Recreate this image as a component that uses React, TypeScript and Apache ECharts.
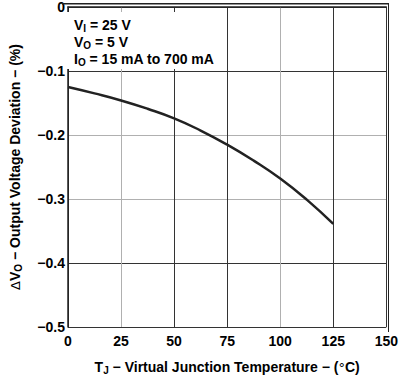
import React, { useEffect, useRef } from "react";
import * as echarts from "echarts";

const temps = [0, 12.5, 25, 37.5, 50, 62.5, 75, 87.5, 100, 112.5, 125];
const deviation = [-0.125, -0.135, -0.146, -0.159, -0.174, -0.193, -0.215, -0.24, -0.268, -0.301, -0.339];
const xTicks = [0, 25, 50, 75, 100, 125, 150];
const yTicks = [-0.5, -0.4, -0.3, -0.2, -0.1, 0];
const noteLines = [
  ["V", "I", " = 25 V"],
  ["V", "O", " = 5 V"],
  ["I", "O", " = 15 mA to 700 mA"],
];

const DARK = "#333333";
const GRAY = "#b0b0b0";
const FONT = "Liberation Sans, Arial, sans-serif";

function fmtY(v: number) {
  if (v === 0) return "0";
  return "\u2212" + Math.abs(v).toFixed(1);
}

export default function App() {
  const ref = useRef<HTMLDivElement>(null);
  useEffect(() => {
    if (!ref.current) return;
    const chart = echarts.init(ref.current, null, { renderer: "svg" });
    const rich = {
      b: { fontFamily: FONT, fontWeight: "bold", fontSize: 14, color: "#000" },
      s: { fontFamily: FONT, fontWeight: "bold", fontSize: 10, color: "#000", verticalAlign: "bottom", padding: [6, 0, 0, 0] },
      d: { fontFamily: "DejaVu Sans, sans-serif", fontWeight: "normal", fontSize: 13, color: "#000" },
    } as any;
    const noteRich = {
      b: { fontFamily: FONT, fontWeight: "bold", fontSize: 14, color: "#000" },
      s: { fontFamily: FONT, fontWeight: "bold", fontSize: 10, color: "#000", verticalAlign: "bottom", padding: [7, 0, 0, 0] },
    } as any;
    chart.setOption({
      animation: false,
      backgroundColor: "#fff",
      grid: { left: 62, right: 13, top: 4, bottom: 48, containLabel: false },
      xAxis: {
        type: "value",
        min: 0,
        max: 150,
        interval: 25,
        axisLine: { show: true, lineStyle: { color: "#222", width: 1.5 } },
        axisTick: { show: false },
        splitLine: {
          show: true,
          lineStyle: { color: [DARK, GRAY, DARK, DARK, GRAY, DARK, DARK], width: 1 },
        },
        axisLabel: {
          color: "#000",
          fontFamily: FONT,
          fontWeight: "bold",
          fontSize: 14,
          margin: 7,
          showMinLabel: true,
          showMaxLabel: true,
          formatter: (v: number) => (xTicks.includes(v) ? String(v) : ""),
        },
        name: "{b|T}{s|J}{b| \u2212 Virtual Junction Temperature \u2212 (}{d|°}{b|C)}",
        nameLocation: "middle",
        nameGap: 32,
        nameTextStyle: { rich },
      },
      yAxis: {
        type: "value",
        min: -0.5,
        max: 0,
        interval: 0.1,
        axisLine: { show: true, onZero: false, lineStyle: { color: "#222", width: 1.5 } },
        axisTick: { show: false },
        splitLine: {
          show: true,
          lineStyle: { color: [DARK, DARK, GRAY, GRAY, DARK, DARK], width: 1 },
        },
        axisLabel: {
          color: "#000",
          fontFamily: FONT,
          fontWeight: "bold",
          fontSize: 14,
          margin: 3,
          showMinLabel: true,
          showMaxLabel: true,
          formatter: (v: number) => {
            const r = Math.round(v * 10) / 10;
            return yTicks.includes(r) ? fmtY(r) : "";
          },
        },
        name: "{d|\u0394}{b|V}{s|O}{b| \u2212 Output Voltage Deviation \u2212 (%)}",
        nameLocation: "middle",
        nameGap: 45,
        nameRotate: 90,
        nameTextStyle: { rich },
      },
      graphic: [
        {
          type: "rect",
          left: 63,
          top: 12,
          z: 1,
          shape: { width: 161, height: 57 },
          style: { fill: "#fff" },
          silent: true,
        },
        {
          type: "rect",
          left: 388,
          top: 4,
          z: 1,
          shape: { width: 1, height: 328 },
          style: { fill: "#222" },
          silent: true,
        },
        {
          type: "rect",
          left: 62,
          top: 3,
          z: 1,
          shape: { width: 327, height: 1.5 },
          style: { fill: "#222" },
          silent: true,
        },
        ...noteLines.map((l, i) => ({
          type: "text",
          left: 74,
          top: 18 + i * 17,
          z: 2,
          style: {
            text: `{b|${l[0]}}{s|${l[1]}}{b|${l[2]}}`,
            rich: noteRich,
          },
          silent: true,
        })),
      ],
      series: [
        {
          type: "line",
          data: temps.map((t, i) => [t, deviation[i]]),
          smooth: true,
          showSymbol: false,
          lineStyle: { color: "#222", width: 2.5 },
        },
      ],
    });
    return () => chart.dispose();
  }, []);
  return <div ref={ref} style={{ position: "absolute", left: 0, top: 0, width: 401, height: 380 }} />;
}
